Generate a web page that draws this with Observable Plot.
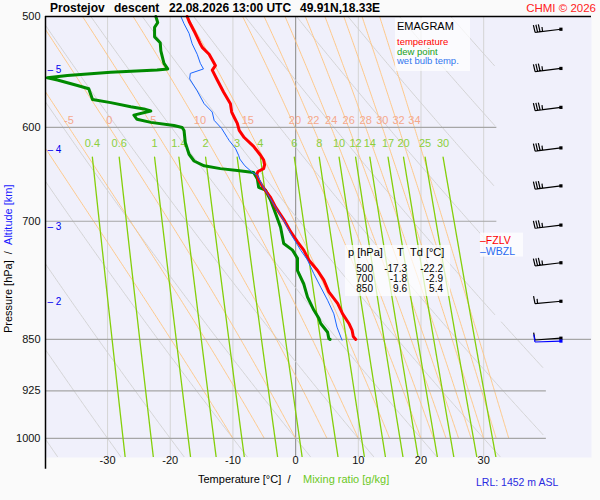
<!DOCTYPE html>
<html><head><meta charset="utf-8">
<script src="https://cdn.jsdelivr.net/npm/d3@7"></script>
<script src="https://cdn.jsdelivr.net/npm/@observablehq/plot@0.6"></script>
<style>html,body{margin:0;padding:0;background:#fafafa;}</style>
</head><body><div id="chart"></div>
<script>
// ---------------- data ----------------
const temperature = [[850,9.6],[846,9.2],[837,9.0],[828,8.5],[815,7.5],[801,6.7],[786,5.3],[771,4.5],[759,3.5],[746,2.1],[734,1.3],[724,0.3],[712,-0.8],[699,-1.8],[684,-3.2],[673,-4.0],[663,-5.1],[654,-5.9],[648,-6.2],[645,-6.0],[642,-5.1],[638,-4.95],[633,-5.1],[628,-5.6],[619,-6.7],[610,-8.2],[603,-9.0],[596,-9.3],[590,-9.8],[585,-10.2],[577,-10.4],[566,-11.5],[555,-12.5],[546,-13.3],[542,-12.8],[532,-13.8],[526,-14.9],[522,-15.3],[512,-16.2],[505,-16.9],[500,-17.3]];
const dewPoint = [[850,5.5],[849,5.3],[840,5.1],[828,4.0],[821,3.7],[810,2.9],[793,1.9],[776,1.3],[759,0.3],[744,0.3],[734,-0.5],[726,-1.9],[707,-2.4],[691,-3.2],[676,-4.0],[665,-4.8],[662,-5.9],[653,-6.1],[646,-6.7],[644,-9.3],[642,-12.0],[639,-14.6],[634,-16.2],[627,-17.0],[615,-17.6],[603,-17.8],[600,-18.1],[598,-19.4],[595,-23.1],[592,-25.3],[588,-25.8],[584,-23.1],[582,-24.2],[580,-26.3],[576,-29.5],[573,-32.4],[563,-33.0],[560,-34.8],[555,-38.0],[553,-39.6],[551,-36.4],[548,-29.5],[546,-22.1],[545,-20.4],[540,-21.0],[529,-21.5],[522,-21.6],[517,-22.5],[509,-22.5],[505,-22.0],[500,-22.3]];
const wetBulb = [[851,7.4],[833,6.6],[815,6.1],[797,5.1],[780,4.0],[763,2.9],[746,1.9],[734,0.8],[718,-0.5],[699,-1.9],[684,-3.2],[669,-4.5],[660,-5.3],[649,-6.1],[646,-6.9],[639,-8.1],[632,-8.9],[628,-9.1],[621,-9.6],[613,-10.6],[610,-10.9],[601,-11.8],[593,-13.0],[585,-13.3],[577,-14.6],[565,-15.7],[554,-16.9],[549,-16.8],[545,-14.7],[540,-15.2],[532,-15.7],[523,-16.5],[514,-17.0],[506,-17.8],[500,-18.3]];

const pressureTicks = [500,600,700,850,925,1000];
const isobars = [600,700,850,925,1000];
const tempTicks = [-30,-20,-10,0,10,20,30];
const altitudeKm = [5,4,3,2];
const altitudeP = [546,622,706.6,799.3];
const dryTheta = [-40,-30,-20,-10,0,10,20,30,40,50,60,70,80,90,100];
const moistThetaW = [-10,-5,0,5,10,15,20,22,24,26,28,30,32,34];
const moistLabelled = [-5,0,5,10,15,20,22,24,26,28,30,32,34];
const mixRatios = [0.4,0.6,1,1.4,2,3,4,6,8,10,12,14,17,20,25,30];
const windP = [511,545,581,621,661,705,750,799,849];
const windDir = [263,263,263,263,263,263,263,265,266];
const windKt = [35,35,35,35,35,35,35,15,10];
const surfaceWind = {p: 853, dir: 268, kt: 10};
const tableP = ["500","700","850"];
const tableT = ["-17.3","-1.8","9.6"];
const tableTd = ["-22.2","-2.9","5.4"];
const levelNames = ["FZLV","WBZL"];
const levelP = [722,736];
const titleParts = ["Prostejov","descent","22.08.2026 13:00 UTC","49.91N,18.33E"];
const copyright = "CHMI \u00a9 2026";
const legendItems = ["temperature","dew point","wet bulb temp."];
const lrl = "LRL: 1452 m ASL";

// ---------------- setup ----------------
const FONT = '"Liberation Sans", Arial, Helvetica, sans-serif';
const X_DOMAIN = [-39.9, 47.2];
const P_TOP = 500, P_BOTTOM = 1032;
const BARB_T = 42.4;
const C_T = "#ff0000", C_TD = "#008a00", C_TW = "#1a66ff";

const esat = T => 6.112 * Math.exp(17.67 * T / (T + 243.5));
const dewFromMix = (w, p) => { const e = w * p / (622 + w); const l = Math.log(e / 6.112); return 243.5 * l / (17.67 - l); };
const upperLimit = p => (p < 825 ? 31.8 : 39.6);
const keep = (T, p) => (T <= upperLimit(p) ? T : NaN);
const isobarEnd = p => (p < 825 ? 32.1 : p === 850 ? X_DOMAIN[1] : 40);

const dryLines = dryTheta.flatMap(th => d3.range(P_TOP, P_BOTTOM + 1, 2).map(p => ({id: th, p, T: keep((th + 273.15) * Math.pow(p / 1000, 0.2857) - 273.15, p)})));

function moistProfile(thw) {
  const Rd = 287.04, cp = 1005.7, Lv = 2.501e6, eps = 0.622;
  const f = (p, T) => { const e = esat(T - 273.15); const rs = eps * e / (p - e); return (Rd * T + Lv * rs) / (p * (cp + Lv * Lv * rs * eps / (Rd * T * T))); };
  const out = []; let T = thw + 273.15;
  for (let p = 1000; p >= P_TOP - 0.01; p -= 2) {
    out.push({id: thw, p, T: T - 273.15});
    const h = -2, k1 = f(p, T), k2 = f(p + h / 2, T + h / 2 * k1);
    T += h * k2;
  }
  return out;
}
const moistRaw = moistThetaW.map(moistProfile);
const moistLines = moistRaw.flat().map(d => ({...d, T: keep(d.T, d.p)}));
const moistLabels = moistLabelled.map(th => ({th, T: moistRaw[moistThetaW.indexOf(th)].find(d => d.p === 600).T}));

const mixLines = mixRatios.flatMap(w => d3.range(630, P_BOTTOM + 1, 3).map(p => ({id: w, p, T: dewFromMix(w, p)})));
const mixLabels = mixRatios.map(w => ({w, T: dewFromMix(w, 630)}));

// ---------------- custom render marks ----------------
function barbMark(index, scales) {
  const g = d3.create("svg:g");
  const x0 = scales.x(BARB_T);
  const draw = (p, dir, kt, color) => {
    const y0 = scales.y(p);
    const a = dir * Math.PI / 180;
    const ux = Math.sin(a), uy = -Math.cos(a);
    const vx = -uy, vy = ux;
    const L = 26, F = 7.5, S = 2.5;
    const ex = x0 + L * ux, ey = y0 + L * uy;
    let d = `M${x0},${y0}L${ex},${ey}`;
    let k = 0, rem = kt;
    while (rem >= 10) { const sx = ex - k * S * ux, sy = ey - k * S * uy; d += `M${sx},${sy}l${F * vx + 0.8 * ux},${F * vy + 0.8 * uy}`; k++; rem -= 10; }
    if (rem >= 5) { const sx = ex - k * S * ux, sy = ey - k * S * uy; d += `M${sx},${sy}l${F * 0.6 * vx},${F * 0.6 * vy}`; }
    g.append("path").attr("d", d).attr("stroke", color).attr("fill", "none").attr("stroke-width", 1.2);
    g.append("rect").attr("x", x0 - 1.6).attr("y", y0 - 1.6).attr("width", 3.2).attr("height", 3.2).attr("fill", color);
  };
  windP.forEach((p, i) => draw(p, windDir[i], windKt[i], "#000"));
  draw(surfaceWind.p, surfaceWind.dir, surfaceWind.kt, "#0000ff");
  return g.node();
}

function overlay(index, scales) {
  const g = d3.create("svg:g").attr("font-family", FONT).attr("text-anchor", "start");
  const t = (x, y, s, o = {}) => {
    return g.append("text").attr("x", x).attr("y", y).text(s)
      .attr("font-size", o.size || 11).attr("fill", o.fill || "#000")
      .attr("text-anchor", o.anchor || "start")
      .attr("font-weight", o.weight || "normal");
  };
  const box = (x, y, w, h) => g.append("rect").attr("x", x).attr("y", y).attr("width", w).attr("height", h).attr("fill", "#fff").attr("fill-opacity", 0.72);
  // title
  [50, 114, 169, 300].forEach((x, i) => t(x, 12, titleParts[i], {size: 12, weight: "bold"}));
  t(596, 12, copyright, {size: 11.5, fill: "#ff2020", anchor: "end"});
  // legend box
  box(395, 18, 75, 53);
  t(397, 30, "EMAGRAM", {size: 11});
  [C_T, "#20a020", "#3377ee"].forEach((c, i) => t(397, 45 + i * 9.5, legendItems[i], {size: 9.5, fill: c}));
  // table
  box(345, 245, 105, 51);
  t(348, 256, "p [hPa]", {size: 11});
  t(397, 256, "T", {size: 11});
  t(410, 256, "Td [\u00b0C]", {size: 11});
  tableP.forEach((v, i) => {
    const y = 271.5 + i * 10;
    t(373, y, v, {size: 10, anchor: "end"});
    t(407, y, tableT[i], {size: 10, anchor: "end"});
    t(443, y, tableTd[i], {size: 10, anchor: "end"});
  });
  // freezing levels
  const y1 = scales.y(levelP[0]);
  box(480, y1 - 7, 43, 24);
  levelNames.forEach((n, i) => t(480, scales.y(levelP[i]) + 4, "\u2013" + n, {size: 10.5, fill: i ? "#2a6af0" : "#ff0000"}));
  // axis titles
  const yt = g.append("text").attr("transform", "translate(12,333) rotate(-90)").attr("font-size", 11).attr("text-anchor", "start");
  yt.append("tspan").attr("fill", "#000").text("Pressure [hPa]\u00a0\u00a0/\u00a0\u00a0");
  yt.append("tspan").attr("fill", "#1a1aff").text("Altitude [km]");
  t(198, 483, "Temperature [\u00b0C]\u00a0\u00a0/", {size: 11});
  t(303, 483, "Mixing ratio [g/kg]", {size: 11, fill: "#6cc81e"});
  t(476, 486, lrl, {size: 10.5, fill: "#2a2ae0"});
  return g.node();
}

// ---------------- plot ----------------
const line = (data, color, width) => Plot.line(data, {x: d => d[1], y: d => d[0], stroke: color, strokeWidth: width, strokeLinejoin: "round", strokeLinecap: "round"});

const chart = Plot.plot({
  width: 600, height: 500,
  marginTop: 16, marginBottom: 43, marginLeft: 45, marginRight: 9,
  x: {domain: X_DOMAIN, axis: null},
  y: {type: "log", domain: [P_BOTTOM, P_TOP], axis: null},
  style: {background: "#fafafa", fontFamily: FONT, overflow: "visible"},
  marks: [
    Plot.frame({fill: "#f0f0fb", stroke: "none"}),
    Plot.ruleX(tempTicks.filter(v => v !== 0), {stroke: "#d4d4d4", strokeWidth: 1}),
    Plot.ruleX([0], {stroke: "#9a9a9a", strokeWidth: 1.2}),
    Plot.line(dryLines, {x: "T", y: "p", z: "id", stroke: "#d0d0d0", strokeWidth: 0.9, clip: true}),
    Plot.line(moistLines, {x: "T", y: "p", z: "id", stroke: "#ffc47e", strokeWidth: 0.9, clip: true}),
    Plot.ruleY(isobars, {x1: X_DOMAIN[0], x2: p => isobarEnd(p), stroke: "#a6a6a6", strokeWidth: 1.2}),
    Plot.line(mixLines, {x: "T", y: "p", z: "id", stroke: "#84cf0a", strokeWidth: 1.3, clip: true}),
    Plot.text(moistLabels, {x: "T", y: () => 593, text: d => String(d.th), fill: "#f5a88c", fontSize: 11}),
    Plot.text(mixLabels, {x: "T", y: () => 616, text: d => String(d.w), fill: "#8ccf3c", fontSize: 11}),
    line(dewPoint, C_TD, 3),
    line(temperature, C_T, 3),
    line(wetBulb, C_TW, 1),
    Plot.ruleY([P_TOP], {stroke: "#000", strokeWidth: 1.5}),
    Plot.ruleX([X_DOMAIN[0]], {y1: P_TOP, y2: 1052, stroke: "#000", strokeWidth: 1.5}),
    Plot.text(pressureTicks, {y: d => d, text: d => String(d), frameAnchor: "left", dx: -5, textAnchor: "end", fontSize: 11, fill: "#111"}),
    Plot.text(tempTicks, {x: d => d, text: d => String(d), frameAnchor: "bottom", dy: 6, fontSize: 11, fill: "#111"}),
    Plot.text(altitudeKm, {y: (d, i) => altitudeP[i], text: d => "\u2013\u00a0" + d, frameAnchor: "left", dx: 2, textAnchor: "start", fontSize: 10, fill: "#0000ee"}),
    barbMark,
    overlay
  ]
});
document.getElementById("chart").appendChild(chart);
</script>
</body></html>
